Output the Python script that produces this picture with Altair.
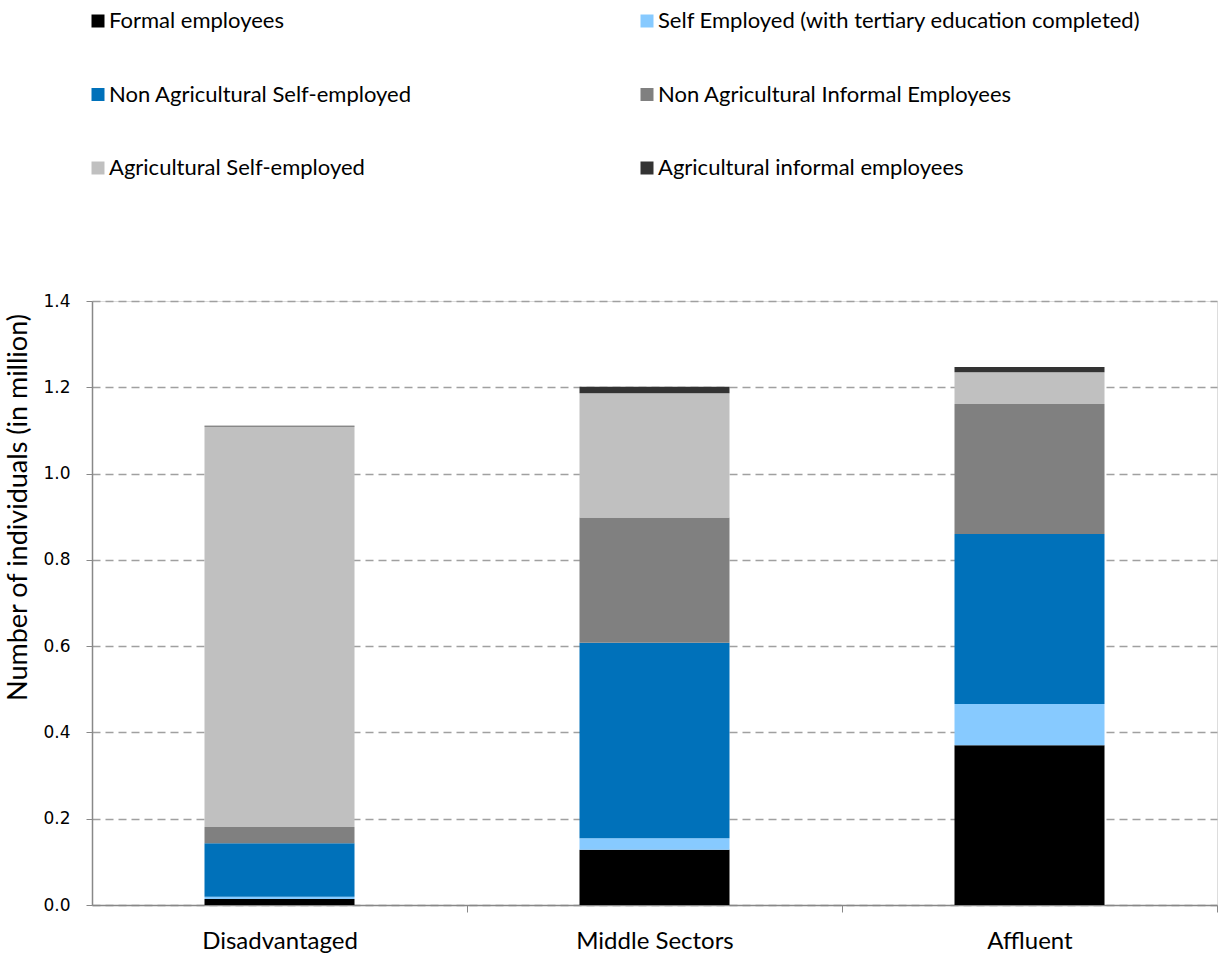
import altair as alt
import pandas as pd

groups = ["Disadvantaged", "Middle Sectors", "Affluent"]
series = [
    "Formal employees",
    "Self Employed (with tertiary education completed)",
    "Non Agricultural Self-employed",
    "Non Agricultural Informal Employees",
    "Agricultural Self-employed",
    "Agricultural informal employees",
]
colors = ["#000000", "#87CAFF", "#0071BA", "#808080", "#C0C0C0", "#333333"]

formal = [0.014, 0.128, 0.370]
self_tertiary = [0.005, 0.027, 0.096]
nonag_self = [0.124, 0.453, 0.394]
nonag_informal = [0.038, 0.290, 0.301]
ag_self = [0.928, 0.288, 0.074]
ag_informal = [0.002, 0.015, 0.012]

values = [formal, self_tertiary, nonag_self, nonag_informal, ag_self, ag_informal]
rows = []
for si, (s, vals) in enumerate(zip(series, values)):
    for g, v in zip(groups, vals):
        rows.append({"group": g, "series": s, "value": v, "idx": si})
df = pd.DataFrame(rows)

chart = alt.Chart(df).mark_bar().encode(
    x=alt.X("group:N", sort=groups, title=None,
            scale=alt.Scale(paddingInner=0.6, paddingOuter=0.3),
            axis=alt.Axis(labelAngle=0, tickOffset=187.5, labelOffset=-187.5,
                          labelFontSize=24, labelFont="Lato",
                          labelColor="#000000", labelPadding=17, tickSize=7, tickColor="#888888",
                          domainColor="#888888", domainWidth=1.5)),
    y=alt.Y("value:Q", stack="zero", title="Number of individuals (in million)",
            scale=alt.Scale(domain=[0, 1.4]),
            axis=alt.Axis(values=[0, 0.2, 0.4, 0.6, 0.8, 1.0, 1.2, 1.4], format=".1f",
                          labelFont="DejaVu Sans", labelFontSize=17, labelColor="#000000",
                          labelPadding=16, tickSize=6, tickColor="#888888",
                          domainColor="#888888", domainWidth=1.5,
                          grid=True, gridDash=[8, 5], gridColor="#A0A0A0", gridWidth=1.3,
                          titleFont="Lato", titleFontSize=27, titleFontWeight="normal",
                          titleColor="#000000", titleX=-60, titleY=206,
                          titleAlign="center", titleBaseline="bottom")),
    color=alt.Color("series:N", scale=alt.Scale(domain=series, range=colors),
                    legend=alt.Legend(title=None, orient="none", legendX=-5, legendY=-291,
                                      direction="horizontal",
                                      columns=2, columnPadding=224, rowPadding=51.5,
                                      symbolType="square", symbolSize=169, symbolStrokeWidth=0,
                                      labelFont="Lato", labelFontSize=22, labelColor="#000000",
                                      labelLimit=600, labelOffset=0, padding=0)),
    order=alt.Order("idx:Q", sort="ascending"),
).properties(
    width=1125, height=604,
    autosize=alt.AutoSizeParams(type="none"),
    padding={"left": 92, "top": 301, "right": 11, "bottom": 58},
).configure_view(stroke=None).configure(background="white")

chart.save("out.html", embed_options={"renderer": "svg", "actions": False})
